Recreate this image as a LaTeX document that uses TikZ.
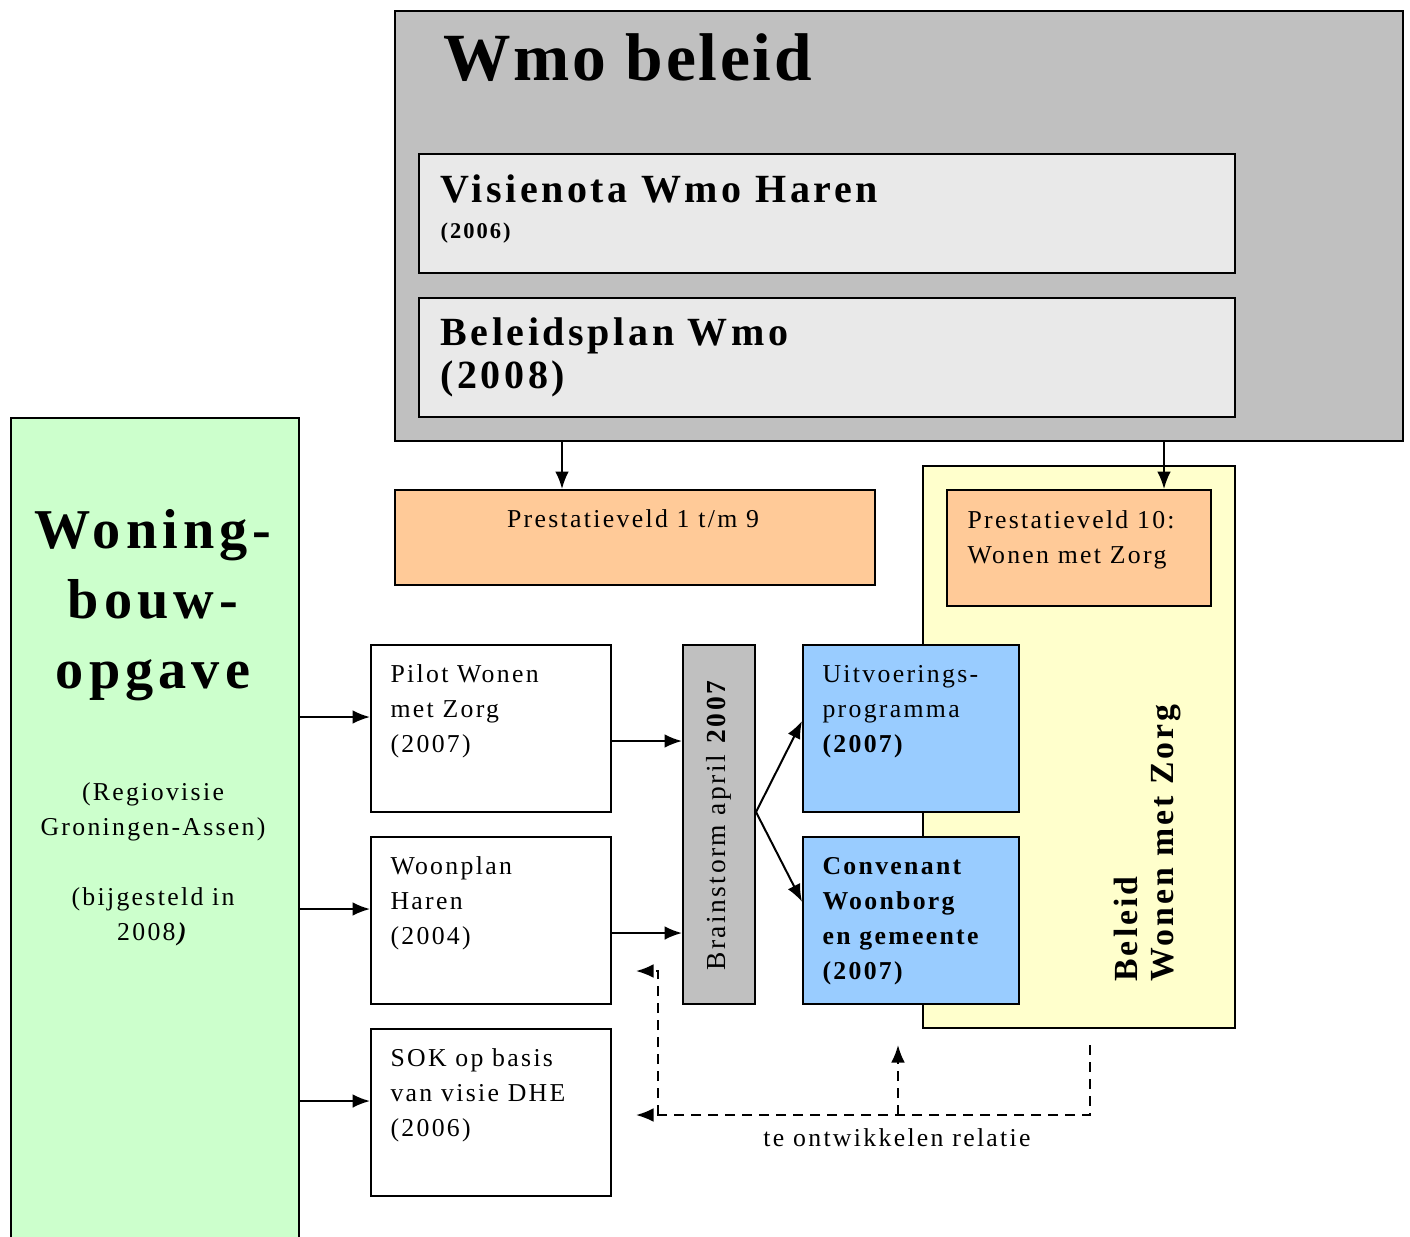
\documentclass[tikz,border=0pt]{standalone}
\usepackage{fontspec}
\setmainfont[LetterSpace=9]{Liberation Serif}
\newfontfamily\titlefont[LetterSpace=4]{Liberation Serif}
\usepackage{xcolor}
\usetikzlibrary{arrows.meta}
\definecolor{wmogray}{HTML}{C0C0C0}
\definecolor{visgray}{HTML}{E9E9E9}
\definecolor{prestorange}{HTML}{FFCA98}
\definecolor{zorgyellow}{HTML}{FFFFCC}
\definecolor{woongreen}{HTML}{CCFFCC}
\definecolor{uitvblue}{HTML}{99CCFF}

\begin{document}
\begin{tikzpicture}[x=0.4pt,y=-0.4pt,
  box/.style={draw, line width=0.8pt, anchor=north west, inner sep=0pt},
  txt/.style={anchor=base west, align=left, inner sep=0pt, font=\fontsize{10.3}{14}\selectfont},
  arr/.style={-{Latex[length=7pt,width=5.5pt]}, line width=0.8pt},
  relarr/.style={arr, dash pattern=on 4pt off 2.8pt}]
\useasboundingbox (0,0) rectangle (1410,1236);

% Wmo beleid
\node[box, fill=wmogray, minimum width=403.2pt, minimum height=172pt] (wmo) at (394,10) {};
\node[anchor=base west, inner sep=0pt, font=\titlefont\fontsize{27}{32}\selectfont\bfseries] (wmotitle) at (443,80) {Wmo beleid};
\node[box, fill=visgray, minimum width=326.4pt, minimum height=47.6pt] (visie) at (418,153) {};
\node[txt, font=\fontsize{16}{17}\selectfont\bfseries] (visietxt) at (440,202) {Visienota Wmo Haren};
\node[txt, font=\fontsize{9}{10}\selectfont\bfseries] (visiejaar) at (440,238) {(2006)};
\node[box, fill=visgray, minimum width=326.4pt, minimum height=47.6pt] (plan) at (418,297) {};
\node[txt, font=\fontsize{16}{17.2}\selectfont\bfseries] (plantxt) at (440,388) {Beleidsplan Wmo\\(2008)};

% prestatievelden
\node[box, fill=zorgyellow, minimum width=124.8pt, minimum height=224.8pt] (zorg) at (922,465) {};
\node[box, fill=prestorange, minimum width=192pt, minimum height=38pt] (prest) at (394,489) {};
\node[anchor=base, inner sep=0pt, font=\fontsize{10.3}{14}\selectfont] (presttxt) at (633,527) {Prestatieveld 1 t/m 9};
\node[box, fill=prestorange, minimum width=105.6pt, minimum height=46.4pt] (prestz) at (946,489) {};
\node[txt] (prestztxt) at (967,563) {Prestatieveld 10:\\Wonen met Zorg};

% woningbouwopgave
\node[box, fill=woongreen, minimum width=115.2pt, minimum height=340pt] (woning) at (10,417) {};
\node[anchor=base, align=center, inner sep=0pt, font=\fontsize{22.5}{28}\selectfont\bfseries] (woningtxt) at (153,688) {Woning-\\bouw-\\opgave};
\node[anchor=base, align=center, inner sep=0pt, font=\fontsize{10.3}{14}\selectfont] (woningsub) at (153,940) {(Regiovisie\\Groningen-Assen)\\[14pt](bijgesteld in\\2008\textbf{\textit{)}}};

\node[box, fill=white, minimum width=96pt, minimum height=66.8pt] (pilot) at (370,644) {};
\node[txt] (pilottxt) at (390,752) {Pilot Wonen\\met Zorg\\(2007)};
\node[box, fill=white, minimum width=96pt, minimum height=66.8pt] (woonplan) at (370,836) {};
\node[txt] (woonplantxt) at (390,944) {Woonplan\\Haren\\(2004)};
\node[box, fill=white, minimum width=96pt, minimum height=66.8pt] (sok) at (370,1028) {};
\node[txt] (soktxt) at (390,1136) {SOK op basis\\van visie DHE\\(2006)};

\node[box, fill=wmogray, minimum width=28.8pt, minimum height=143.6pt] (brain) at (682,644) {};
\node[rotate=90, inner sep=0pt, font=\fontsize{11}{14}\selectfont] (braintxt) at (brain.center) {Brainstorm april \textbf{2007}};

\node[box, fill=uitvblue, minimum width=86.4pt, minimum height=66.8pt] (uitv) at (802,644) {};
\node[txt] (uitvtxt) at (822,752) {Uitvoerings-\\programma\\\textbf{(2007)}};
\node[box, fill=uitvblue, minimum width=86.4pt, minimum height=66.8pt] (conv) at (802,836) {};
\node[txt, font=\fontsize{10.3}{14}\selectfont\bfseries] (convtxt) at (822,979) {Convenant\\Woonborg\\en gemeente\\(2007)};

\node[txt, rotate=90, font=\fontsize{13.5}{14.4}\selectfont\bfseries] (zorgtxt) at (1173,982) {Beleid\\Wonen met Zorg};

% pijlen
\draw[arr] ([xshift=67.2pt]prest.north west |- wmo.south) -- ([xshift=67.2pt]prest.north west);
\draw[arr] ([xshift=-19.2pt]prestz.north east |- wmo.south) -- ([xshift=-19.2pt]prestz.north east);

\draw[arr] ([yshift=4.6pt]pilot.west -| woning.east) -- ([yshift=4.6pt]pilot.west);
\draw[arr] ([yshift=4.6pt]woonplan.west -| woning.east) -- ([yshift=4.6pt]woonplan.west);
\draw[arr] ([yshift=4.6pt]sok.west -| woning.east) -- ([yshift=4.6pt]sok.west);

\draw[arr] ([yshift=-5pt]pilot.east) -- ([yshift=-5pt]pilot.east -| brain.west);
\draw[arr] ([yshift=-5pt]woonplan.east) -- ([yshift=-5pt]woonplan.east -| brain.west);
\draw[arr] ([yshift=5pt]brain.east) -- ([yshift=3pt]uitv.west);
\draw[arr] ([yshift=5pt]brain.east) -- ([yshift=7.5pt]conv.west);

% te ontwikkelen relatie
\coordinate (relstart) at (1090,1045);
\coordinate (relleft) at (636,1115);
\coordinate (relmid) at (898,1115);
\coordinate (relup) at (898,1045);
\coordinate (relcorner) at (658,1115);
\coordinate (relwoon) at (636,971);
\draw[relarr] (relstart) |- (relleft);
\draw[relarr] (relmid) -- (relup);
\draw[relarr] (relcorner) |- (relwoon);
\node[anchor=base, inner sep=0pt, font=\fontsize{10.3}{14}\selectfont] (reltxt) at (897,1146) {te ontwikkelen relatie};
\end{tikzpicture}
\end{document}
